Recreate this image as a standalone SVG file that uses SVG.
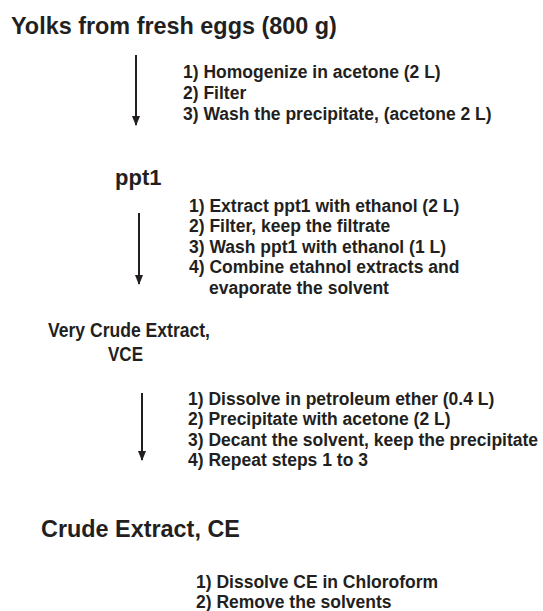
<svg xmlns="http://www.w3.org/2000/svg" width="543" height="611" viewBox="0 0 543 611">
<style>
text{font-family:"Liberation Sans",Arial,sans-serif;font-weight:bold;fill:#231f20}
.h{font-size:23.4px}
.s{font-size:17.5px}
.c{stroke:#231f20;stroke-width:2;fill:none}
</style>
<defs>
<marker id="ah" markerUnits="userSpaceOnUse" markerWidth="10" markerHeight="9" refX="9" refY="4" orient="auto" viewBox="0 0 10 8">
<path d="M0,0 L10,4 L0,8 Z" fill="#231f20"/>
</marker>
</defs>
<rect width="543" height="611" fill="#fff"/>
<g id="connectors">
<line class="c" x1="136" y1="55" x2="136" y2="125" marker-end="url(#ah)"/>
<line class="c" x1="139" y1="213" x2="139" y2="284" marker-end="url(#ah)"/>
<line class="c" x1="142" y1="393" x2="142" y2="460" marker-end="url(#ah)"/>
</g>
<g id="yolks"><text class="h" x="11" y="33.5">Yolks from fresh eggs (800 g)</text></g>
<g id="steps1">
<text class="s" x="183" y="78">1) Homogenize in acetone (2 L)</text>
<text class="s" x="183" y="99">2) Filter</text>
<text class="s" x="183" y="120">3) Wash the precipitate, (acetone 2 L)</text>
</g>
<g id="ppt1"><text x="115" y="185" style="font-size:22px">ppt1</text></g>
<g id="steps2">
<text class="s" x="189" y="212">1) Extract ppt1 with ethanol (2 L)</text>
<text class="s" x="189" y="232">2) Filter, keep the filtrate</text>
<text class="s" x="189" y="253">3) Wash ppt1 with ethanol (1 L)</text>
<text class="s" x="189" y="273">4) Combine etahnol extracts and</text>
<text class="s" x="209" y="294">evaporate the solvent</text>
</g>
<g id="vce">
<text x="48" y="336.5" style="font-size:21px" textLength="162" lengthAdjust="spacingAndGlyphs">Very Crude Extract,</text>
<text x="108" y="360.5" style="font-size:21px" textLength="35" lengthAdjust="spacingAndGlyphs">VCE</text>
</g>
<g id="steps3">
<text class="s" x="188" y="405">1) Dissolve in petroleum ether (0.4 L)</text>
<text class="s" x="188" y="425">2) Precipitate with acetone (2 L)</text>
<text class="s" x="188" y="446">3) Decant the solvent, keep the precipitate</text>
<text class="s" x="188" y="466">4) Repeat steps 1 to 3</text>
</g>
<g id="ce"><text class="h" x="41" y="537">Crude Extract, CE</text></g>
<g id="steps4">
<text class="s" x="196" y="588">1) Dissolve CE in Chloroform</text>
<text class="s" x="196" y="608">2) Remove the solvents</text>
</g>
</svg>
